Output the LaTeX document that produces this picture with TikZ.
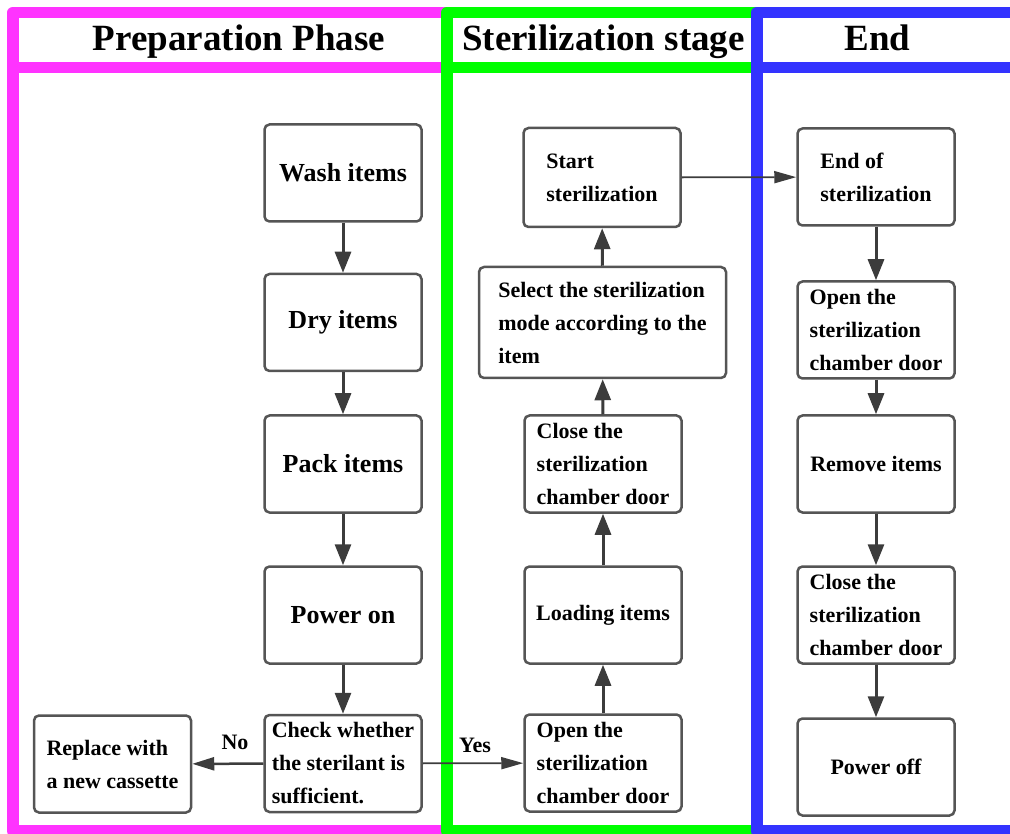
\documentclass[tikz,border=0pt]{standalone}
\usepackage{fontspec}
\setmainfont{Liberation Serif}
\usetikzlibrary{arrows.meta}
\definecolor{prepmag}{RGB}{255,51,255}
\definecolor{sterigreen}{RGB}{0,255,0}
\definecolor{endblue}{RGB}{51,51,255}
\definecolor{boxgray}{RGB}{85,85,85}
\definecolor{arrowgray}{RGB}{60,60,60}
\tikzset{
  stepbox/.style={draw=boxgray, line width=2.5pt, rounded corners=5pt, fill=white,
    minimum width=157pt, minimum height=97pt, align=left, inner sep=0pt,
    font=\bfseries\fontsize{22}{33}\selectfont},
  bigstep/.style={stepbox, align=center, font=\bfseries\fontsize{26}{30}\selectfont},
  flow/.style={draw=arrowgray, line width=3pt, -{Triangle[length=21pt,width=16pt]}},
  thinflow/.style={draw=arrowgray, line width=1.8pt, -{Triangle[length=22pt,width=12pt]}},
  frame/.style={line width=11.5pt, line join=round},
  header/.style={anchor=base, font=\bfseries\fontsize{37}{40}\selectfont},
  answer/.style={font=\bfseries\fontsize{22}{26}\selectfont}
}

\begin{document}
\begin{tikzpicture}[x=1pt,y=-1pt]
			%%%%% FRAMES %%%%%
			\useasboundingbox (0,0) rectangle (1010,834);
			\clip (0,0) rectangle (1010,834);
			
			\draw[frame, prepmag] (13,12.5) rectangle (447,831);
			\draw[frame, prepmag] (13,67.5) -- (447,67.5);
			
			\draw[frame, sterigreen] (447,12.5) rectangle (757,831);
			\draw[frame, sterigreen] (447,67.5) -- (757,67.5);
			
			\draw[frame, endblue] (757,12.5) rectangle (1040,831);
			\draw[frame, endblue] (757,67.5) -- (1040,67.5);
			
			\node[header] (prephead) at (239,51) {Preparation Phase};
			\node[header] (sterhead) at (603.5,51) {Sterilization stage};
			\node[header] (endhead) at (877.5,51) {End};
			
			%%%%% PREPARATION %%%%%
			\node[bigstep] (wash) at (343,173) {Wash items};
			\node[bigstep] (dry) at (343,322.5) {Dry items};
			\node[bigstep] (pack) at (343,464) {Pack items};
			\node[bigstep] (poweron) at (343,615) {Power on};
			\node[stepbox] (check) at (343,763.5) {Check whether\\the sterilant is\\sufficient.};
			\node[stepbox] (replace) at (112.5,764) {Replace with\\a new cassette};
			
			\draw[flow] (wash) -- (dry);
			\draw[flow] (dry) -- (pack);
			\draw[flow] (pack) -- (poweron);
			\draw[flow] (poweron) -- (check);
			\draw[flow, line width=2.5pt, -{Triangle[length=22pt,width=13pt]}] (check) -- (replace);
			\node[answer] (lblno) at (235,742) {No};
			
			%%%%% STERILIZATION %%%%%
			\node[stepbox] (openster) at (603,763) {Open the\\sterilization\\chamber door};
			\node[stepbox] (loading) at (603,615) {Loading items};
			\node[stepbox] (closester) at (603,464) {Close the\\sterilization\\chamber door};
			\node[stepbox, minimum width=247pt, minimum height=111pt] (selectmode) at (602.5,322.5) {Select the sterilization\\mode according to the\\item};
			\node[stepbox, minimum height=99pt] (startster) at (602,177.5) {Start\\sterilization};
			
			\draw[thinflow] (check) -- (openster);
			\node[answer] (lblyes) at (475,745) {Yes};
			\draw[flow] (openster) -- (loading);
			\draw[flow] (loading) -- (closester);
			\draw[flow] (closester) -- (selectmode);
			\draw[flow] (selectmode) -- (startster);
			
			%%%%% END %%%%%
			\node[stepbox] (endster) at (876,177) {End of\\sterilization};
			\node[stepbox] (openend) at (876,330) {Open the\\sterilization\\chamber door};
			\node[stepbox] (remove) at (876,464) {Remove items};
			\node[stepbox] (closeend) at (876,615) {Close the\\sterilization\\chamber door};
			\node[stepbox] (poweroff) at (876,767) {Power off};
			
			\draw[thinflow] (startster) -- (endster);
			\draw[flow] (endster) -- (openend);
			\draw[flow] (openend) -- (remove);
			\draw[flow] (remove) -- (closeend);
			\draw[flow] (closeend) -- (poweroff);
			
			%%%%% END %%%%%
\end{tikzpicture}
\end{document}
